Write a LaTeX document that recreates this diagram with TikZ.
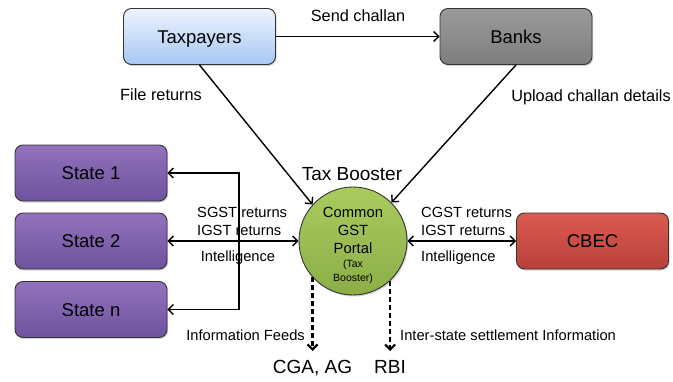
\documentclass[tikz,border=0pt]{standalone}
\usepackage{fontspec}
\setmainfont{Liberation Sans}
\usetikzlibrary{arrows.meta}
\usetikzlibrary{shadows}
\usetikzlibrary{positioning}

\definecolor{taxtop}{HTML}{EEF4FE}
\definecolor{taxbot}{HTML}{A7C7F4}
\definecolor{banktop}{HTML}{9A9A9A}
\definecolor{bankbot}{HTML}{7E7E7E}
\definecolor{statetop}{HTML}{9272BC}
\definecolor{statebot}{HTML}{6E539E}
\definecolor{cbectop}{HTML}{DC5B51}
\definecolor{cbecbot}{HTML}{B8413B}
\definecolor{gsttop}{HTML}{A9CB5E}
\definecolor{gstbot}{HTML}{8CAE48}
\newcommand{\minitxt}{\fontsize{10.5}{12}\selectfont}

\begin{document}
\begin{tikzpicture}[x=1pt,y=-1pt,
  >={Straight Barb[length=5pt,width=10pt]},
  box/.style={rectangle,rounded corners=8pt,draw=black!80,line width=0.9pt,
    minimum width=152pt,minimum height=56pt,font=\fontsize{18.5}{22}\selectfont,
    text height=14.5pt,text depth=1.5pt,
    drop shadow={opacity=0.35,shadow xshift=1.2pt,shadow yshift=-1.5pt}},
  statebox/.style={box,top color=statetop,bottom color=statebot},
  portal/.style={circle,draw=black!80,line width=0.9pt,minimum size=108pt,inner sep=0pt,
    top color=gsttop,bottom color=gstbot,
    drop shadow={opacity=0.35,shadow xshift=1.2pt,shadow yshift=-1.5pt}},
  toplbl/.style={inner sep=1pt,font=\fontsize{16.3}{19}\selectfont},
  midlbl/.style={inner sep=1pt,font=\fontsize{14.7}{18}\selectfont},
  biglbl/.style={inner sep=1pt,font=\fontsize{19}{22}\selectfont,text height=14pt,text depth=3pt},
  flow/.style={line width=1.4pt,->},
  twoway/.style={line width=1.4pt,<->},
  feed/.style={line width=2.2pt,dash pattern=on 5pt off 3pt,->}]
\useasboundingbox (0,0) rectangle (673,381);

% boxes
\node[box,top color=taxtop,bottom color=taxbot] (tax) at (199.5,36.5) {Taxpayers};
\node[box,top color=banktop,bottom color=bankbot] (bank) at (516,36.5) {Banks};
\node[statebox] (s1) at (91,173) {State 1};
\node[statebox] (s2) at (91,241) {State 2};
\node[statebox] (sn) at (91,309.5) {State n};
\node[box,top color=cbectop,bottom color=cbecbot] (cbec) at (592.5,241) {CBEC};
\node[portal] (gst) at (353,241) {};
\node[align=center,font=\fontsize{14.8}{18}\selectfont] (gsttxt) at (353,245)
  {Common\\GST\\Portal\\[-4pt]{\minitxt (Tax}\\[-4pt]{\minitxt Booster)}};

% labels
\node[toplbl] (sendlbl) at (358,16) {Send challan};
\node[toplbl] (filelbl) at (161,95) {File returns};
\node[toplbl] (uplbl) at (591,97) {Upload challan details};
\node[biglbl] (boostlbl) at (352,175) {Tax Booster};
\node[midlbl,align=left,anchor=west] (sgstlbl) at (196,221) {SGST returns\\IGST returns};
\node[midlbl] (intl) at (238,258) {Intelligence};
\node[midlbl,align=left,anchor=west] (cgstlbl) at (420,221) {CGST returns\\IGST returns};
\node[midlbl,anchor=west] (intr) at (420,258) {Intelligence};
\node[midlbl,anchor=east] (feedlbl) at (306,335) {Information Feeds};
\node[midlbl,anchor=west] (setlbl) at (399,335) {Inter-state settlement Information};
\node[biglbl] (cga) at (312.5,368) {CGA, AG};
\node[biglbl] (rbi) at (390,368) {RBI};

% connectors
\coordinate (bus) at (239,241);
\coordinate (cgaend) at (313,351);
\coordinate (rbiend) at (390,351);
\draw[flow] (tax) -- (bank);
\draw[flow] (tax.south) -- (gst.138);
\draw[flow] (bank.south) -- (gst.45);
\draw[twoway] (s2) -- (gst);
\draw[twoway] (s1.east) -| (bus) |- (sn.east);
\draw[twoway] (gst) -- (cbec);
\draw[feed] (gst.222) -- (gst.222 |- cgaend);
\draw[feed] (gst.313) -- (gst.313 |- rbiend);

\end{tikzpicture}
\end{document}
